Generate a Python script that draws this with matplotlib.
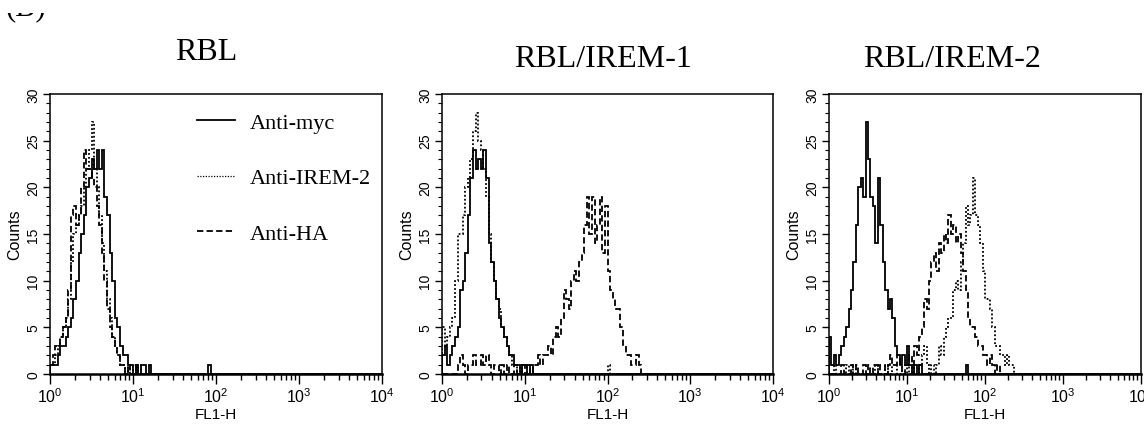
import numpy as np
import matplotlib
matplotlib.use("Agg")
import matplotlib.pyplot as plt
from matplotlib.lines import Line2D
from matplotlib.patches import Rectangle
from matplotlib.ticker import MultipleLocator, LogLocator, NullFormatter

plt.rcParams["font.family"] = ["Liberation Sans", "DejaVu Sans"]
plt.rcParams["mathtext.fontset"] = "custom"
plt.rcParams["mathtext.rm"] = "Liberation Sans"
plt.rcParams["mathtext.it"] = "Liberation Sans"
plt.rcParams["mathtext.bf"] = "Liberation Sans"

# FL1-H histograms: 32 channels per decade over 4 decades (10^0 .. 10^4)
CHANNELS_PER_DECADE = 32
N_CHANNELS = 128

panel_titles = ["RBL", "RBL/IREM-1", "RBL/IREM-2"]
series_labels = ["Anti-myc", "Anti-IREM-2", "Anti-HA"]

# RBL
rbl_myc = [1, 1, 1, 2, 3, 3, 4, 5, 6, 8, 10, 13, 15, 17, 20, 21,
           23, 22, 24, 22, 24, 19, 17, 13, 10, 6, 5, 3, 2, 2, 1, 1,
           0, 1, 0, 1, 1, 0, 1, 0, 0, 0, 0, 0, 0, 0, 0, 0,
           0, 0, 0, 0, 0, 0, 0, 0, 0, 0, 0, 0, 0, 1, 0, 0]
rbl_irem2 = [1, 1, 2, 3, 4, 5, 6, 8, 12, 15, 16, 17, 18, 20, 22, 24,
             27, 22, 20, 17, 14, 11, 8, 6, 4, 3, 2, 1, 1, 0, 1, 0,
             1, 0, 1, 0, 0, 0, 0, 0]
rbl_ha = [1, 2, 3, 3, 4, 5, 6, 9, 17, 18, 16, 17, 20, 24, 22, 22,
          21, 20, 18, 16, 13, 10, 7, 5, 4, 3, 2, 1, 1, 0, 1, 0,
          0, 1, 0, 0, 0, 0, 0, 0]

# RBL/IREM-1
irem1_myc = [2, 3, 1, 2, 3, 4, 5, 9, 10, 13, 17, 21, 24, 22, 23, 22,
             24, 21, 14, 12, 10, 8, 6, 5, 4, 3, 2, 2, 1, 1, 0, 1,
             1, 0, 1, 0, 0, 0, 0, 0]
irem1_irem2 = [5, 3, 4, 5, 6, 10, 15, 15, 17, 20, 21, 23, 26, 28, 25, 24,
               22, 19, 15, 12, 10, 8, 7, 5, 4, 3, 2, 1, 1, 0, 1, 0,
               0, 0, 0, 0, 0, 0, 0, 0, 0, 0, 0, 0, 0, 0, 0, 0,
               0, 0, 0, 0, 0, 0, 0, 0, 0, 0, 0, 0, 0, 0, 0, 0,
               1, 0, 0, 0]
irem1_ha = [0, 0, 0, 0, 0, 0, 1, 2, 1, 0, 1, 1, 2, 1, 1, 2,
            1, 2, 1, 0, 1, 1, 0, 1, 0, 1, 0, 0, 1, 0, 0, 1,
            0, 1, 0, 1, 1, 2, 1, 2, 2, 3, 2, 4, 5, 4, 6, 9,
            8, 7, 10, 11, 10, 12, 13, 16, 19, 15, 19, 14, 16, 19, 13, 18,
            11, 9, 8, 7, 7, 5, 3, 2, 2, 1, 1, 2, 1, 0, 0, 0]

# RBL/IREM-2
irem2_myc = [4, 1, 2, 1, 2, 3, 4, 5, 7, 9, 12, 16, 20, 21, 19, 27,
             23, 19, 18, 14, 21, 16, 12, 9, 7, 8, 6, 3, 2, 1, 2, 1,
             3, 1, 0, 1, 0, 1, 0, 0, 0, 0, 0, 0, 0, 0, 0, 0,
             0, 0, 0, 0, 0, 0, 0, 0, 1, 0, 0, 0, 0, 0, 0, 0]
irem2_irem2 = [0, 0, 1, 0, 0, 0, 0, 1, 0, 0, 1, 0, 0, 0, 0, 0,
               0, 0, 0, 1, 0, 0, 0, 1, 0, 0, 1, 1, 0, 0, 0, 0,
               1, 0, 1, 0, 0, 1, 2, 3, 1, 0, 1, 0, 1, 3, 2, 4,
               5, 6, 6, 9, 10, 9, 12, 14, 18, 16, 17, 21, 17, 16, 14, 11,
               8, 8, 7, 5, 3, 3, 2, 2, 1, 2, 1, 1, 0, 0, 0, 0]
irem2_ha = [0, 0, 0, 0, 0, 1, 0, 0, 0, 1, 0, 1, 0, 0, 1, 0,
            1, 0, 1, 1, 0, 1, 1, 0, 1, 2, 1, 1, 2, 1, 0, 1,
            1, 2, 1, 3, 2, 4, 5, 8, 7, 10, 12, 13, 11, 14, 13, 15,
            14, 17, 15, 16, 14, 15, 13, 11, 9, 6, 5, 5, 4, 3, 3, 2,
            2, 1, 2, 1, 0, 1, 0, 0]

panel_data = [
    (rbl_myc, rbl_irem2, rbl_ha),
    (irem1_myc, irem1_irem2, irem1_ha),
    (irem2_myc, irem2_irem2, irem2_ha),
]

line_styles = ["-", (0, (1, 1.2)), (0, (3.5, 1.8))]
edges = 10.0 ** (np.arange(N_CHANNELS + 1) / CHANNELS_PER_DECADE)


def channel_counts(values):
    arr = np.asarray(values, dtype=float)
    return np.pad(arr, (0, N_CHANNELS - len(arr)))


W, H = 1144, 427
fig = plt.figure(figsize=(W / 100, H / 100), dpi=100)

# axes rectangles in pixels: left, right, top, bottom
axes_px = [(50, 382, 95, 375), (442, 773, 95, 375), (829, 1141, 95, 375)]
title_px = [(206, 52), (603, 60), (952, 60)]

axes = []
for (l, r, t, b), series, title, (tx, ty) in zip(axes_px, panel_data, panel_titles, title_px):
    ax = fig.add_axes([l / W, 1 - b / H, (r - l) / W, (b - t) / H])
    for vals, ls in zip(series, line_styles):
        ax.stairs(channel_counts(vals), edges, baseline=0, color="black",
                  linewidth=1.3, linestyle=ls)
    ax.set_xscale("log")
    ax.set_xlim(1, 1e4)
    ax.set_ylim(0, 30)
    ax.xaxis.set_major_locator(LogLocator(base=10, numticks=10))
    ax.xaxis.set_minor_locator(LogLocator(base=10, subs=np.arange(2, 10), numticks=50))
    ax.xaxis.set_minor_formatter(NullFormatter())
    ax.yaxis.set_major_locator(MultipleLocator(5))
    ax.yaxis.set_minor_locator(MultipleLocator(1))
    ax.tick_params(axis="x", which="major", direction="out", length=7, width=1,
                   labelsize=11.5, pad=2)
    ax.tick_params(axis="x", which="minor", direction="out", length=4, width=1)
    ax.tick_params(axis="y", which="major", direction="out", length=5, width=1,
                   labelsize=10, pad=2, labelrotation=90)
    ax.tick_params(axis="y", which="minor", direction="out", length=3, width=0.8)
    for lab in ax.get_yticklabels():
        lab.set_verticalalignment("center")
    for side, sp in ax.spines.items():
        sp.set_linewidth(1.8 if side == "bottom" else 1.1)
    ax.set_xlabel("FL1-H", fontsize=11, labelpad=1)
    ax.set_ylabel("Counts", fontsize=11.5, labelpad=3)
    fig.text(tx / W, 1 - ty / H, title, family="Liberation Serif", fontsize=23,
             ha="center", va="center")
    axes.append(ax)

handles = [Line2D([], [], color="black", linewidth=1.3, linestyle=ls) for ls in line_styles]
handles[1].set_linewidth(0.9)
axes[0].legend(handles, series_labels, loc="upper left", bbox_to_anchor=(0.443, 0.935),
               frameon=False, borderpad=0, borderaxespad=0, handlelength=1.7,
               handletextpad=0.65, labelspacing=1.58,
               prop={"family": "Liberation Serif", "size": 16})

# panel letter, only its lower edge lies inside the figure
fig.text(6 / W, 1 - 15.5 / H, "(B)", family="Liberation Serif", fontsize=22,
         ha="left", va="baseline", zorder=2)
fig.add_artist(Rectangle((0, 1 - 13.5 / H), 80 / W, 13.5 / H, transform=fig.transFigure,
                         facecolor="white", edgecolor="none", zorder=20))

fig.savefig("out.png", dpi=100)
